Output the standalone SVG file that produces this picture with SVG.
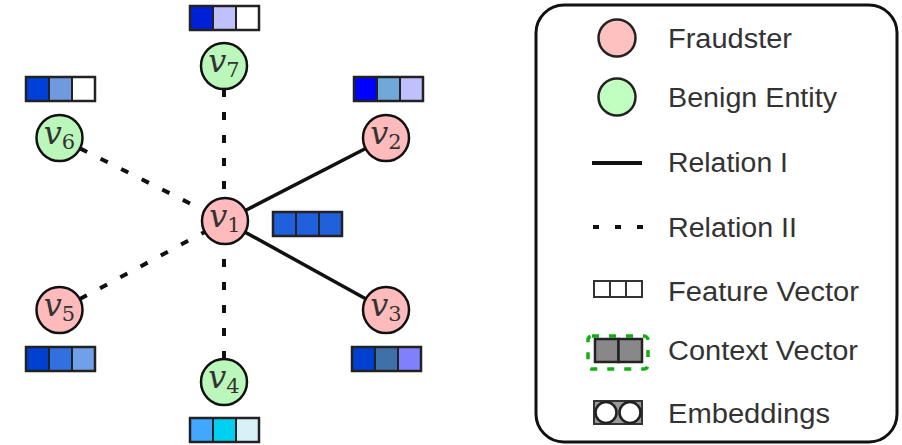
<svg xmlns="http://www.w3.org/2000/svg" width="902" height="445" viewBox="0 0 902 445">
<style>
.fr{fill:#ffbbbb;stroke:#111;stroke-width:2.5}
.bn{fill:#bbf7bb;stroke:#111;stroke-width:2.5}
.lbl{font-family:"DejaVu Serif","Liberation Serif",serif;font-style:italic;font-size:32px;fill:#333;text-anchor:middle}
.sub{font-style:normal;font-size:21px}
.solid{stroke:#111;stroke-width:3.5;fill:none}
.dash{stroke:#111;stroke-width:4;fill:none;stroke-dasharray:8 15}
.cell{stroke:#222;stroke-width:2}
.vec{fill:none;stroke:#222;stroke-width:2.5}
.lt{font-family:"Liberation Sans",Arial,sans-serif;font-size:27px;fill:#333}
</style>
<rect width="902" height="445" fill="#fff"/>
<g id="connectors">
<line class="solid" x1="225" y1="221" x2="386" y2="138"/>
<line class="solid" x1="225" y1="221" x2="386" y2="310"/>
<line class="dash" x1="224" y1="89" x2="224" y2="198"/>
<line class="dash" x1="224" y1="359" x2="224" y2="244"/>
<line class="dash" x1="80" y1="148.4" x2="204.5" y2="210.7"/>
<line class="dash" x1="79.8" y1="299.1" x2="204.7" y2="231.9"/>
</g>
<g id="v1">
<circle class="fr" cx="225" cy="221" r="23"/>
<text class="lbl" x="225" y="227">v<tspan class="sub" dy="5">1</tspan></text>
<rect class="cell" x="273" y="212" width="23" height="24" fill="#2060dc"/>
<rect class="cell" x="296" y="212" width="23" height="24" fill="#2060dc"/>
<rect class="cell" x="319" y="212" width="23" height="24" fill="#2060dc"/>
<rect class="vec" x="273" y="212" width="69" height="24"/>
</g>
<g id="v2">
<circle class="fr" cx="386" cy="138" r="23"/>
<text class="lbl" x="386" y="144">v<tspan class="sub" dy="5">2</tspan></text>
<rect class="cell" x="354" y="77" width="23" height="24" fill="#0000ff"/>
<rect class="cell" x="377" y="77" width="23" height="24" fill="#70a8d8"/>
<rect class="cell" x="400" y="77" width="23" height="24" fill="#c0c0ff"/>
<rect class="vec" x="354" y="77" width="69" height="24"/>
</g>
<g id="v3">
<circle class="fr" cx="386" cy="310" r="23"/>
<text class="lbl" x="386" y="316">v<tspan class="sub" dy="5">3</tspan></text>
<rect class="cell" x="352" y="347" width="23" height="24" fill="#0040d0"/>
<rect class="cell" x="375" y="347" width="23" height="24" fill="#4070a8"/>
<rect class="cell" x="398" y="347" width="23" height="24" fill="#8080ff"/>
<rect class="vec" x="352" y="347" width="69" height="24"/>
</g>
<g id="v4">
<circle class="bn" cx="224" cy="382" r="23"/>
<text class="lbl" x="224" y="388">v<tspan class="sub" dy="5">4</tspan></text>
<rect class="cell" x="190" y="418" width="23" height="24" fill="#40a8ff"/>
<rect class="cell" x="213" y="418" width="23" height="24" fill="#00d0f0"/>
<rect class="cell" x="236" y="418" width="23" height="24" fill="#d8f0f8"/>
<rect class="vec" x="190" y="418" width="69" height="24"/>
</g>
<g id="v5">
<circle class="fr" cx="59.5" cy="310" r="23"/>
<text class="lbl" x="59.5" y="316">v<tspan class="sub" dy="5">5</tspan></text>
<rect class="cell" x="26" y="347" width="23" height="24" fill="#0040d0"/>
<rect class="cell" x="49" y="347" width="23" height="24" fill="#3070e0"/>
<rect class="cell" x="72" y="347" width="23" height="24" fill="#70a0e8"/>
<rect class="vec" x="26" y="347" width="69" height="24"/>
</g>
<g id="v6">
<circle class="bn" cx="59.5" cy="138" r="23"/>
<text class="lbl" x="59.5" y="144">v<tspan class="sub" dy="5">6</tspan></text>
<rect class="cell" x="26" y="77" width="23" height="24" fill="#0040d8"/>
<rect class="cell" x="49" y="77" width="23" height="24" fill="#6f9ae0"/>
<rect class="cell" x="72" y="77" width="23" height="24" fill="#ffffff"/>
<rect class="vec" x="26" y="77" width="69" height="24"/>
</g>
<g id="v7">
<circle class="bn" cx="224" cy="66" r="23"/>
<text class="lbl" x="224" y="72">v<tspan class="sub" dy="5">7</tspan></text>
<rect class="cell" x="190" y="6" width="23" height="24" fill="#0020d8"/>
<rect class="cell" x="213" y="6" width="23" height="24" fill="#c0c0ff"/>
<rect class="cell" x="236" y="6" width="23" height="24" fill="#ffffff"/>
<rect class="vec" x="190" y="6" width="69" height="24"/>
</g>
<g id="legend">
<rect x="536" y="5" width="361" height="437" rx="28" fill="none" stroke="#111" stroke-width="3"/>
<circle cx="617" cy="38" r="18.5" fill="#ffc0c0" stroke="#222" stroke-width="2.5"/>
<text class="lt" x="668" y="48" textLength="124" lengthAdjust="spacingAndGlyphs">Fraudster</text>
<circle cx="617" cy="97" r="18.5" fill="#c0ffc0" stroke="#222" stroke-width="2.5"/>
<text class="lt" x="668" y="107" textLength="169" lengthAdjust="spacingAndGlyphs">Benign Entity</text>
<line x1="592" y1="163" x2="642" y2="163" stroke="#111" stroke-width="4"/>
<text class="lt" x="668" y="172" textLength="120" lengthAdjust="spacingAndGlyphs">Relation I</text>
<line x1="593" y1="227" x2="643" y2="227" stroke="#111" stroke-width="4" stroke-dasharray="6 16"/>
<text class="lt" x="668" y="237" textLength="129" lengthAdjust="spacingAndGlyphs">Relation II</text>
<rect x="594" y="281" width="16" height="16" fill="#fff" stroke="#333" stroke-width="2"/>
<rect x="610" y="281" width="16" height="16" fill="#fff" stroke="#333" stroke-width="2"/>
<rect x="626" y="281" width="16" height="16" fill="#fff" stroke="#333" stroke-width="2"/>
<text class="lt" x="668" y="301" textLength="191" lengthAdjust="spacingAndGlyphs">Feature Vector</text>
<rect x="588" y="336" width="60" height="33" rx="4" fill="none" stroke="#10b010" stroke-width="3.5" stroke-dasharray="7 10"/>
<rect x="595" y="339" width="23.5" height="23" fill="#888" stroke="#222" stroke-width="2.5"/>
<rect x="618.5" y="339" width="23.5" height="23" fill="#888" stroke="#222" stroke-width="2.5"/>
<text class="lt" x="668" y="360" textLength="190" lengthAdjust="spacingAndGlyphs">Context Vector</text>
<rect x="594" y="401" width="48" height="23" fill="#999" stroke="#333" stroke-width="2"/>
<circle cx="606" cy="412.5" r="10.5" fill="#fff" stroke="#222" stroke-width="2.5"/>
<circle cx="630" cy="412.5" r="10.5" fill="#fff" stroke="#222" stroke-width="2.5"/>
<text class="lt" x="668" y="423" textLength="162" lengthAdjust="spacingAndGlyphs">Embeddings</text>
</g>
</svg>
